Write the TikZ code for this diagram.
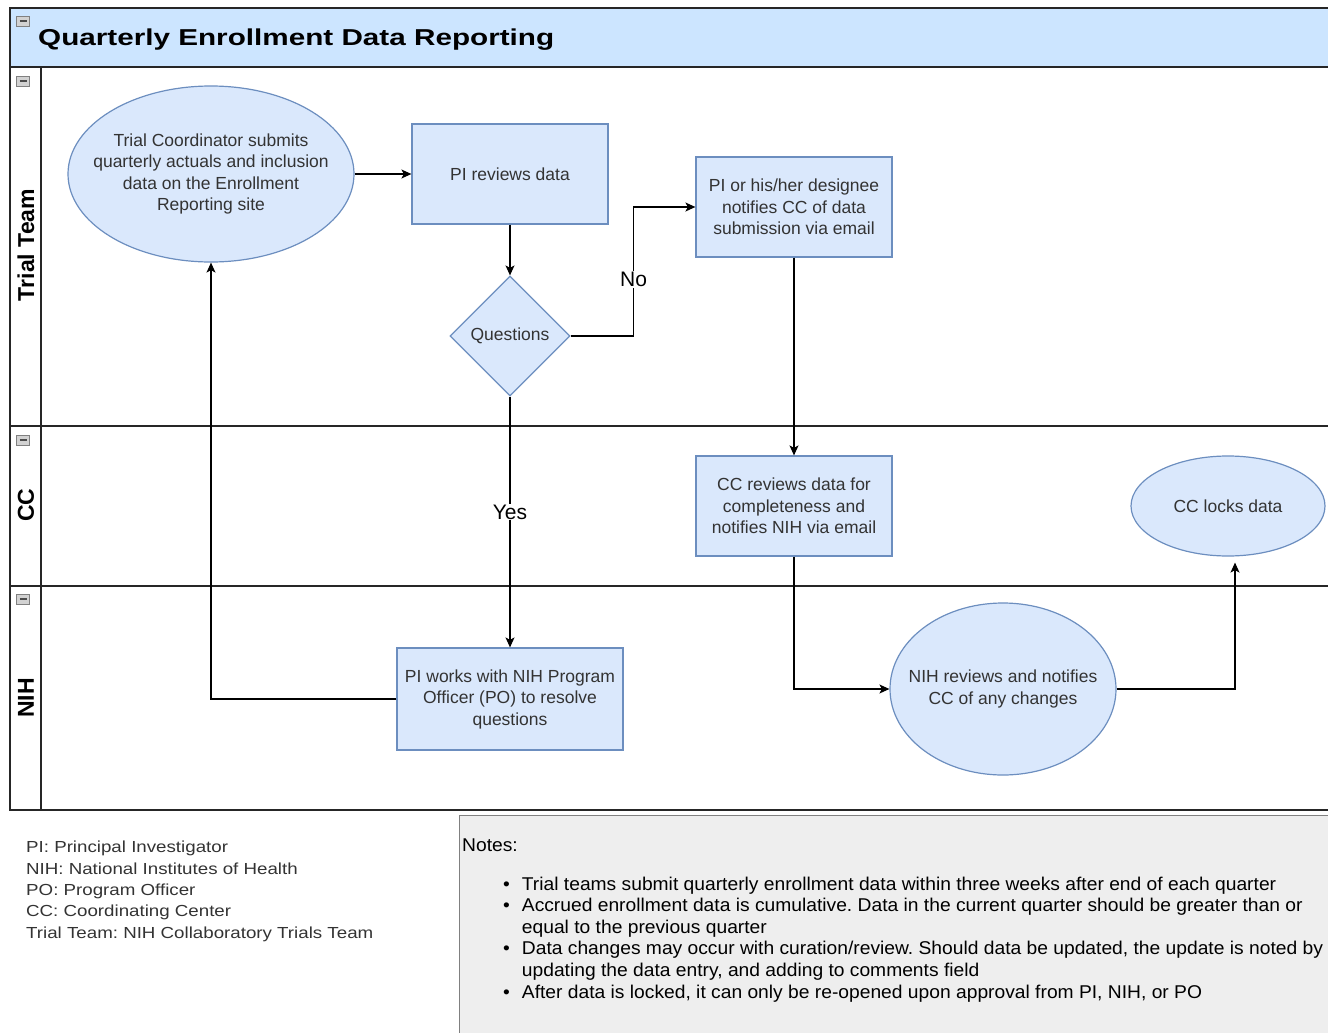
\documentclass[tikz,border=0pt]{standalone}
\usepackage{fontspec}
\setmainfont{Liberation Sans}
\newfontfamily\titlefont{Liberation Sans}[FakeStretch=1.29]
\newfontfamily\legendfont{Liberation Sans}[FakeStretch=1.17]
\newfontfamily\notefont{Liberation Sans}[FakeStretch=1.04]
\usetikzlibrary{arrows.meta}
\usetikzlibrary{shapes.geometric}

\definecolor{poolblue}{HTML}{CCE5FF}
\definecolor{nodefill}{HTML}{DAE8FC}
\definecolor{nodeline}{HTML}{6C8EBF}
\definecolor{notefill}{HTML}{EEEEEE}
\definecolor{txtgray}{HTML}{333333}

\tikzset{
  stepbox/.style={rectangle, draw=nodeline, fill=nodefill, line width=1.2pt,
    minimum width=196, minimum height=100, inner sep=0pt, align=center,
    text=txtgray, font=\fontsize{17.5}{21.5}\selectfont},
  ovalbox/.style={stepbox, ellipse, inner sep=-25pt},
  decision/.style={stepbox, diamond, minimum width=120, minimum height=120},
  flow/.style={-{Stealth[length=10pt, width=9pt, inset=2.5pt]}, line width=1.2pt},
  lbl/.style={fill=white, inner sep=1pt, font=\fontsize{21}{24}\selectfont},
  minbox/.style={draw=gray, fill=gray!35, minimum width=13, minimum height=10, inner sep=0pt,
    path picture={\draw[black!70, line width=1.5pt]
      ([xshift=3pt]path picture bounding box.west) -- ([xshift=-3pt]path picture bounding box.east);}},
  lanelbl/.style={rotate=90, font=\fontsize{23}{26}\selectfont\bfseries}
}

\begin{document}
\frenchspacing
\begin{tikzpicture}[x=1pt, y=-1pt]
      \useasboundingbox (0,0) rectangle (1328,1033);

      % pool and lanes
      \fill[poolblue] (10,8) rectangle (1340,67);
      \draw[line width=1.5pt, black!85] (10,8) rectangle (1340,810);
      \draw[line width=1.5pt, black!85] (10,67) -- (1340,67);
      \draw[line width=1.5pt, black!85] (10,426) -- (1340,426);
      \draw[line width=1.5pt, black!85] (10,586) -- (1340,586);
      \draw[line width=1.5pt, black!85] (41,67) -- (41,810);

      \node[minbox] (m0) at (23,21) {};
      \node[minbox] (m1) at (23,81) {};
      \node[minbox] (m2) at (23,440) {};
      \node[minbox] (m3) at (23,599) {};

      \node[anchor=base west, inner sep=0pt, font=\fontsize{23}{26}\titlefont\bfseries] (title) at (38,46) {Quarterly Enrollment Data Reporting};
      \node[lanelbl] (trial) at (26,245) {Trial Team};
      \node[lanelbl] (cc) at (26,505) {CC};
      \node[lanelbl] (nihlane) at (26,698) {NIH};

      % steps
      \node[ovalbox, minimum width=286, minimum height=176] (tc) at (211,174) {Trial Coordinator submits\\quarterly actuals and inclusion\\data on the Enrollment\\Reporting site};
      \node[stepbox] (pir) at (510,174) {PI reviews data};
      \node[decision] (q) at (510,336) {Questions};
      \node[stepbox] (des) at (794,207) {PI or his/her designee\\notifies CC of data\\submission via email};
      \node[stepbox] (ccr) at (794,506) {CC reviews data for\\completeness and\\notifies NIH via email};
      \node[ovalbox, minimum width=194, minimum height=100] (lock) at (1228,506) {CC locks data};
      \node[stepbox, minimum width=226, minimum height=102] (piw) at (510,699) {PI works with NIH Program\\Officer (PO) to resolve\\questions};
      \node[ovalbox, minimum width=226, minimum height=172] (nih) at (1003,689) {NIH reviews and notifies\\CC of any changes};

      \draw[flow] (tc.east) -- (pir.west);
      \draw[flow] (pir) -- (q);
      \draw[flow] (q.east) -- ++(63,0) |- node[lbl, pos=0.22] {No} (des.west);
      \draw[flow] (q) -- node[lbl, pos=0.46] {Yes} (piw);
      \draw[flow] (des) -- (ccr);
      \draw[flow] (ccr.south) |- (nih.west);
      \draw[flow] (nih.east) -| ([xshift=7pt, yshift=-6pt]lock.south);
      \draw[flow] (piw.west) -| (tc.south);

      % legend and notes
      \node[anchor=north west, inner sep=0pt, align=left, text=black!80, font=\fontsize{16}{21.3}\legendfont] (legend) at (26,841)
        {PI: Principal Investigator\\NIH: National Institutes of Health\\PO: Program Officer\\CC: Coordinating Center\\Trial Team: NIH Collaboratory Trials Team};
      \fill[notefill] (459,815) rectangle (1340,1040);
      \draw[gray, line width=1pt] (1340,815) -- (459,815) -- (459,1040);
      \node[anchor=base west, inner sep=0pt, font=\fontsize{18.5}{21.6}\notefont] (notes) at (462,851) {Notes:};
      \node[anchor=base west, inner sep=0pt, font=\fontsize{18.5}{21.6}\notefont] (items) at (503,890)
        {\begin{tabular}[t]{@{}l@{\hspace{12pt}}l@{}}
          \textbullet & Trial teams submit quarterly enrollment data within three weeks after end of each quarter\\
          \textbullet & Accrued enrollment data is cumulative. Data in the current quarter should be greater than or\\
           & equal to the previous quarter\\
          \textbullet & Data changes may occur with curation/review. Should data be updated, the update is noted by\\
           & updating the data entry, and adding to comments field\\
          \textbullet & After data is locked, it can only be re-opened upon approval from PI, NIH, or PO
        \end{tabular}};
\end{tikzpicture}
\end{document}
